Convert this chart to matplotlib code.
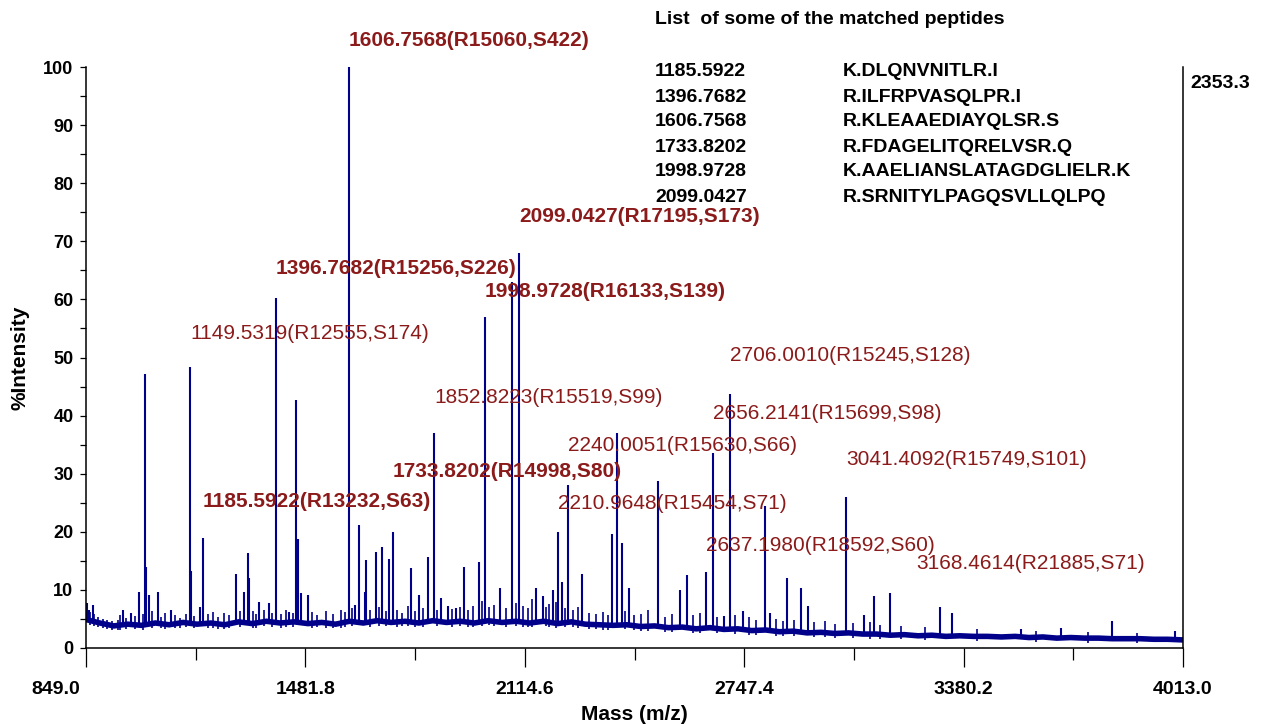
import matplotlib
matplotlib.use('Agg')
import matplotlib.pyplot as plt
import matplotlib.transforms as mtransforms
import numpy as np

plt.rcParams['font.family'] = ['Liberation Sans', 'DejaVu Sans']

# baseline of the spectrum (m/z, %intensity)
base_mass = [849, 889, 929, 969, 1009, 1049, 1089, 1129, 1169, 1209, 1249, 1289, 1329, 1369,
             1409, 1449, 1489, 1529, 1569, 1609, 1649, 1689, 1729, 1769, 1809, 1849, 1889,
             1929, 1969, 2009, 2049, 2089, 2129, 2169, 2209, 2249, 2289, 2329, 2369, 2409,
             2449, 2489, 2529, 2569, 2609, 2649, 2689, 2729, 2769, 2809, 2849, 2889, 2929,
             2969, 3009, 3049, 3089, 3129, 3169, 3209, 3249, 3289, 3329, 3369, 3409, 3449,
             3489, 3529, 3569, 3609, 3649, 3689, 3729, 3769, 3809, 3849, 3889, 3929, 3969,
             4009, 4013]
base_level = [4.9, 4.3, 3.8, 4.1, 3.9, 4.3, 4.0, 4.4, 4.1, 4.3, 4.0, 4.5, 4.2, 4.6,
              4.3, 4.5, 4.2, 4.4, 4.1, 4.6, 4.3, 4.7, 4.4, 4.6, 4.3, 4.7, 4.4,
              4.6, 4.3, 4.7, 4.4, 4.6, 4.3, 4.6, 4.2, 4.5, 4.1, 4.0, 3.9, 4.0,
              3.7, 3.8, 3.5, 3.6, 3.3, 3.5, 3.2, 3.3, 3.0, 3.1, 2.8, 2.9, 2.6,
              2.7, 2.5, 2.6, 2.4, 2.4, 2.2, 2.3, 2.1, 2.2, 2.0, 2.1, 2.0, 2.0,
              1.9, 2.0, 1.8, 1.9, 1.7, 1.8, 1.7, 1.7, 1.6, 1.6, 1.6, 1.5, 1.5,
              1.4, 1.4]

# peaks (m/z, %intensity)
peak_mass = [852, 858, 868, 956, 978, 1003, 1020, 1023, 1031, 1056, 1093, 1149.53, 1151, 1177,
             1185.59, 1281, 1304, 1317, 1319, 1348, 1376, 1396.77, 1435, 1456, 1461, 1470, 1490,
             1606.76, 1626, 1635, 1655, 1658, 1684, 1704, 1723, 1733.82, 1787, 1809, 1835,
             1852.82, 1874, 1893, 1917, 1938, 1982, 1998.97, 2042, 2078, 2099.04, 2148, 2166,
             2195, 2210.96, 2221, 2240.01, 2281, 2367, 2381, 2395, 2416, 2499, 2563, 2581,
             2637.20, 2656.21, 2690, 2706.00, 2745, 2806, 2822, 2872, 2912, 2930, 3041.41,
             3093, 3123, 3168.46, 3311, 3347, 3547, 3661, 3808, 3990]
peak_int = [7.8, 6.6, 7.4, 6.5, 6.0, 9.6, 47.2, 14.0, 9.2, 9.6, 6.5, 48.3, 13.2, 7.0,
            18.9, 12.8, 9.7, 16.3, 12.0, 7.9, 7.7, 60.3, 6.2, 42.7, 18.7, 9.4, 9.1,
            100.0, 7.4, 21.2, 9.6, 15.1, 16.6, 17.4, 15.3, 20.0, 13.7, 9.2, 15.6,
            37.0, 8.6, 7.3, 6.8, 14.0, 14.8, 57.0, 10.3, 63.0, 68.0, 10.4, 9.0,
            10.0, 20.0, 11.3, 28.0, 12.7, 19.6, 37.0, 18.0, 10.3, 28.7, 10.0, 12.5,
            13.0, 33.5, 5.5, 43.8, 6.4, 24.4, 6.0, 12.0, 10.3, 7.2, 26.0,
            5.6, 8.9, 9.5, 7.0, 6.0, 3.3, 3.4, 4.7, 2.9]

# small noise spikes on the baseline
noise_mass = [861, 873, 884, 897, 910, 925, 940, 948, 965, 990, 1012, 1040, 1065, 1078, 1105,
              1120, 1138, 1160, 1200, 1215, 1230, 1248, 1262, 1292, 1330, 1340, 1362, 1385,
              1412, 1425, 1445, 1500, 1515, 1540, 1560, 1585, 1597, 1617, 1668, 1695, 1714,
              1745, 1760, 1778, 1797, 1820, 1862, 1905, 1927, 1950, 1965, 1990, 2010, 2025,
              2060, 2088, 2110, 2125, 2135, 2175, 2185, 2205, 2230, 2255, 2268, 2300, 2320,
              2340, 2355, 2405, 2430, 2450, 2470, 2520, 2540, 2600, 2620, 2670, 2720, 2760,
              2780, 2840, 2860, 2890, 2950, 2980, 3010, 3060, 3110, 3140, 3200, 3270,
              3420, 3590, 3740, 3880]
noise_int = [6.2, 5.9, 5.3, 5.0, 4.9, 4.7, 4.9, 5.6, 5.2, 5.5, 5.8, 6.3, 5.4, 6.0, 5.6,
             5.2, 5.8, 5.5, 5.9, 6.2, 5.4, 6.0, 5.6, 6.4, 6.3, 5.8, 6.6, 6.0,
             5.9, 6.5, 6.1, 6.2, 5.7, 6.3, 5.9, 6.6, 6.2, 6.8, 6.5, 7.0, 6.3,
             6.6, 6.1, 7.2, 6.4, 6.8, 6.6, 6.7, 7.0, 6.5, 7.3, 8.1, 7.0, 7.4,
             6.8, 7.7, 7.2, 6.8, 8.4, 7.0, 7.5, 8.0, 6.9, 6.5, 7.0, 6.0, 5.8,
             6.2, 5.7, 6.3, 5.6, 5.9, 6.5, 5.4, 5.9, 5.6, 6.0, 5.4, 5.7, 5.3,
             4.8, 5.0, 4.6, 4.8, 4.4, 4.6, 4.2, 4.3, 4.5, 4.0, 3.8, 3.6,
             3.3, 3.0, 2.8, 2.6]

# annotated peaks
label_text = ['1606.7568(R15060,S422)', '1396.7682(R15256,S226)', '2099.0427(R17195,S173)',
              '1998.9728(R16133,S139)', '1733.8202(R14998,S80)', '1185.5922(R13232,S63)',
              '1149.5319(R12555,S174)', '1852.8223(R15519,S99)', '2240.0051(R15630,S66)',
              '2210.9648(R15454,S71)', '2706.0010(R15245,S128)', '2656.2141(R15699,S98)',
              '2637.1980(R18592,S60)', '3041.4092(R15749,S101)', '3168.4614(R21885,S71)']
label_bold = [True, True, True, True, True, True,
              False, False, False, False, False, False, False, False, False]
label_x = [1606.76, 1396.77, 2099.04, 1998.97, 1733.82, 1185.59, 1149.53, 1852.82, 2240.01,
           2210.96, 2706.00, 2656.21, 2637.20, 3041.41, 3243.6]
label_y = [104.6, 65.4, 74.2, 61.4, 30.3, 25.3, 54.2, 43.2, 34.9, 24.8, 50.4, 40.4, 17.6, 32.5, 14.6]

# matched peptide table
pep_mass = ['1185.5922', '1396.7682', '1606.7568', '1733.8202', '1998.9728', '2099.0427']
pep_seq = ['K.DLQNVNITLR.I', 'R.ILFRPVASQLPR.I', 'R.KLEAAEDIAYQLSR.S', 'R.FDAGELITQRELVSR.Q',
           'K.AAELIANSLATAGDGLIELR.K', 'R.SRNITYLPAGQSVLLQLPQ']

x_min, x_max = 849.0, 4013.0
blue = '#00008b'
red = '#8b1a1a'

fig = plt.figure(figsize=(12.64, 7.24), dpi=100)
ax = fig.add_axes([86 / 1264, 1 - 648 / 724, 1097 / 1264, 581 / 724])

ax.plot(base_mass, base_level, color=blue, lw=4.0, solid_joinstyle='miter')
foot = np.interp(noise_mass, base_mass, base_level) - 0.8
ax.vlines(noise_mass, foot, noise_int, color=blue, lw=1.2)
foot = np.interp(peak_mass, base_mass, base_level)
ax.vlines(peak_mass, foot, peak_int, color=blue, lw=1.5)

for t, b, lx, ly in zip(label_text, label_bold, label_x, label_y):
    ax.text(lx, ly, t, color=red, fontsize=15, fontweight='bold' if b else 'normal',
            ha='left', va='center', clip_on=False)

ax.set_xlim(x_min, x_max)
ax.set_ylim(0, 100)
ax.spines['top'].set_visible(False)
for s in ['left', 'bottom', 'right']:
    ax.spines[s].set_linewidth(1.1)

step = (x_max - x_min) / 5
ax.set_xticks(np.arange(x_min, x_max + 1, step))
ax.set_xticks(np.arange(x_min + step / 2, x_max, step), minor=True)
ax.set_xticklabels(['%.1f' % v for v in np.arange(x_min, x_max + 1, step)])
ax.set_yticks(np.arange(0, 101, 10))
ax.set_yticks(np.arange(5, 100, 10), minor=True)
ax.tick_params(axis='x', which='major', direction='out', length=14, width=0.9, pad=10,
               labelsize=14)
ax.tick_params(axis='x', which='minor', direction='out', length=8.5, width=0.9)
ax.tick_params(axis='y', which='both', direction='out', length=4, width=0.9, pad=5,
               labelsize=13, right=False)
for lab in ax.get_xticklabels() + ax.get_yticklabels():
    lab.set_fontweight('bold')
first = ax.get_xticklabels()[0]
first.set_horizontalalignment('right')
first.set_transform(first.get_transform() + mtransforms.ScaledTranslation(-0.06, 0, fig.dpi_scale_trans))

ax.set_xlabel('Mass (m/z)', fontsize=15, fontweight='bold', labelpad=5)
ax.set_ylabel('%Intensity', fontsize=15, fontweight='bold', labelpad=10)

fig.text(1190 / 1264, 1 - 84 / 724, '2353.3', fontsize=14, fontweight='bold', va='center')
fig.text(655 / 1264, 1 - 20 / 724, 'List  of some of the matched peptides', fontsize=14,
         fontweight='bold', va='center')
for i, (m, sq) in enumerate(zip(pep_mass, pep_seq)):
    yy = 1 - (72 + 25 * i) / 724
    fig.text(655 / 1264, yy, m, fontsize=14, fontweight='bold', va='center')
    fig.text(843 / 1264, yy, sq, fontsize=14, fontweight='bold', va='center')

fig.savefig('out.png', dpi=100)
